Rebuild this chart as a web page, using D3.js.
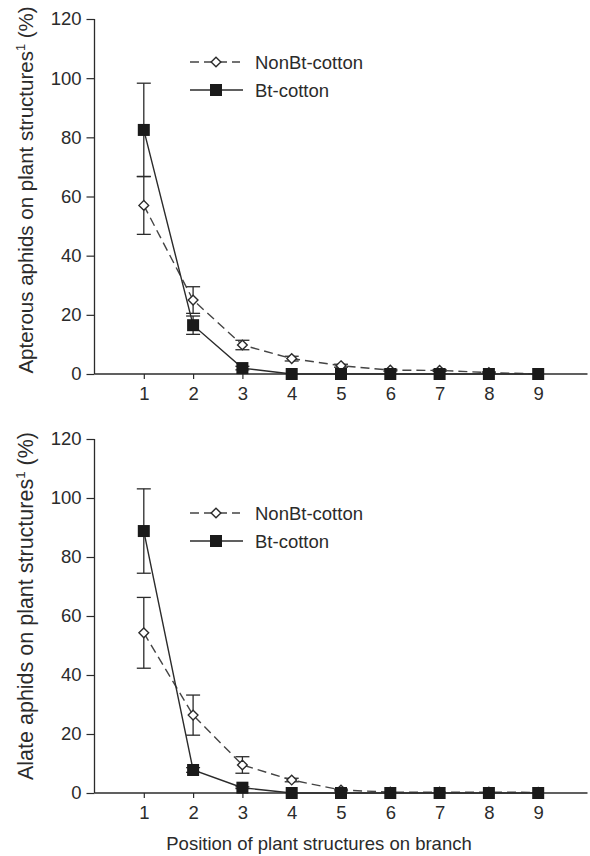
<!DOCTYPE html>
<html><head><meta charset="utf-8">
<script src="https://cdn.jsdelivr.net/npm/d3@7"></script>
<style>
body{margin:0;background:#fff;}
svg{display:block;font-family:"Liberation Sans",Arial,sans-serif;}
</style></head>
<body>
<svg id="c" width="590" height="856"></svg>
<script>
const positions = [1,2,3,4,5,6,7,8,9];
const yTicks = [0,20,40,60,80,100,120];
const seriesNames = ["NonBt-cotton","Bt-cotton"];

// Panel A: apterous aphids
const apterousNonBt = [57.0, 25.0, 9.8, 5.2, 2.8, 1.3, 1.2, 0.5, 0];
const apterousNonBtErr = [9.8, 4.5, 1.6, 0.8, 0.5, 0.3, 0.3, 0.2, 0];
const apterousBt = [82.5, 16.5, 2.0, 0, 0, 0, 0, 0, 0];
const apterousBtErr = [15.8, 3.1, 0.6, 0, 0, 0, 0, 0, 0];

// Panel B: alate aphids
const alateNonBt = [54.3, 26.4, 9.5, 4.4, 1.0, 0.3, 0.3, 0.3, 0.2];
const alateNonBtErr = [12.0, 6.8, 2.8, 0.6, 0.3, 0, 0, 0, 0];
const alateBt = [88.8, 7.8, 1.8, 0, 0, 0, 0, 0, 0];
const alateBtErr = [14.3, 0.8, 0.3, 0, 0, 0, 0, 0, 0];

const panels = [
  {title:"Apterous aphids on plant structures", top:19, bottom:374, legendY:62, titleY:190, tfs:20.5,
   nonBt:apterousNonBt, nonBtErr:apterousNonBtErr, bt:apterousBt, btErr:apterousBtErr},
  {title:"Alate aphids on plant structures", top:439, bottom:793, legendY:513, titleY:606, tfs:21.5,
   nonBt:alateNonBt, nonBtErr:alateNonBtErr, bt:alateBt, btErr:alateBtErr}
];

const svg = d3.select("#c");
const ink = "#2b2b2b";
const x = d3.scaleLinear().domain([0,10]).range([94.5,587.5]);
const fs = 18.5;

panels.forEach((p,pi)=>{
  const y = d3.scaleLinear().domain([0,120]).range([p.bottom,p.top]);
  const g = svg.append("g");

  const ya = g.append("g").attr("transform",`translate(${x(0)},0)`)
    .call(d3.axisLeft(y).tickValues(yTicks).tickSize(8).tickPadding(5));
  ya.select(".domain").attr("stroke",ink).attr("stroke-width",1.3).attr("d",`M0,${y(120)}V${y(0)}`);
  ya.selectAll(".tick line").attr("stroke",ink).attr("stroke-width",1.2);
  ya.selectAll(".tick text").attr("fill",ink).attr("font-size",fs).attr("font-family","Liberation Sans, Arial, sans-serif");

  const xa = g.append("g").attr("transform",`translate(0,${y(0)})`)
    .call(d3.axisBottom(x).tickValues(positions).tickSize(5).tickPadding(8));
  xa.select(".domain").attr("stroke",ink).attr("stroke-width",1.3).attr("d",`M${x(0)},0H${x(10)}`);
  xa.selectAll(".tick line").attr("stroke",ink).attr("stroke-width",1.2);
  xa.selectAll(".tick text").attr("fill",ink).attr("font-size",fs).attr("font-family","Liberation Sans, Arial, sans-serif");

  const t = g.append("text").attr("transform",`translate(33,${p.titleY}) rotate(-90)`)
    .attr("text-anchor","middle").attr("fill",ink).attr("font-size",p.tfs);
  t.append("tspan").text(p.title);
  t.append("tspan").attr("font-size",p.tfs*0.62).attr("dy",-8).text("1");
  t.append("tspan").attr("dy",8).text(" (%)");

  const nb = positions.map((d,i)=>({x:d,v:p.nonBt[i],e:p.nonBtErr[i]}));
  const bt = positions.map((d,i)=>({x:d,v:p.bt[i],e:p.btErr[i]}));
  const line = d3.line().x(d=>x(d.x)).y(d=>y(d.v));

  function errBars(data){
    data.filter(d=>d.e>0).forEach(d=>{
      const cx=x(d.x), y1=y(d.v+d.e), y2=y(Math.max(0,d.v-d.e));
      g.append("line").attr("x1",cx).attr("x2",cx).attr("y1",y1).attr("y2",y2).attr("stroke",ink).attr("stroke-width",1.3);
      g.append("line").attr("x1",cx-7).attr("x2",cx+7).attr("y1",y1).attr("y2",y1).attr("stroke",ink).attr("stroke-width",1.3);
      g.append("line").attr("x1",cx-7).attr("x2",cx+7).attr("y1",y2).attr("y2",y2).attr("stroke",ink).attr("stroke-width",1.3);
    });
  }
  errBars(nb); errBars(bt);

  g.append("path").datum(nb).attr("d",line).attr("fill","none").attr("stroke","#444").attr("stroke-width",1.4).attr("stroke-dasharray","9,5");
  g.append("path").datum(bt).attr("d",line).attr("fill","none").attr("stroke",ink).attr("stroke-width",1.4);

  const diamond = d3.symbol().type(d3.symbolDiamond2).size(60);
  g.selectAll(".nbm").data(nb).join("path").attr("transform",d=>`translate(${x(d.x)},${y(d.v)})`)
    .attr("d",diamond).attr("fill","#fff").attr("stroke",ink).attr("stroke-width",1.4);
  g.selectAll(".btm").data(bt).join("rect").attr("x",d=>x(d.x)-6).attr("y",d=>y(d.v)-6)
    .attr("width",12).attr("height",12).attr("fill","#1a1a1a");

  const lx1=190, lx2=240, lcx=216;
  const ly1=p.legendY, ly2=p.legendY+28;
  g.append("line").attr("x1",lx1).attr("x2",lx2).attr("y1",ly1).attr("y2",ly1).attr("stroke","#444").attr("stroke-width",1.4).attr("stroke-dasharray","9,5");
  g.append("path").attr("transform",`translate(${lcx},${ly1})`).attr("d",diamond).attr("fill","#fff").attr("stroke",ink).attr("stroke-width",1.4);
  g.append("text").attr("x",255).attr("y",ly1+7).attr("fill",ink).attr("font-size",fs).text(seriesNames[0]);
  g.append("line").attr("x1",lx1).attr("x2",lx2+3).attr("y1",ly2).attr("y2",ly2).attr("stroke",ink).attr("stroke-width",1.4);
  g.append("rect").attr("x",lcx-6).attr("y",ly2-6).attr("width",12).attr("height",12).attr("fill","#1a1a1a");
  g.append("text").attr("x",255).attr("y",ly2+7).attr("fill",ink).attr("font-size",fs).text(seriesNames[1]);
});

svg.append("text").attr("x",319).attr("y",850).attr("text-anchor","middle").attr("fill",ink)
  .attr("font-size",fs).text("Position of plant structures on branch");
</script>
</body></html>
